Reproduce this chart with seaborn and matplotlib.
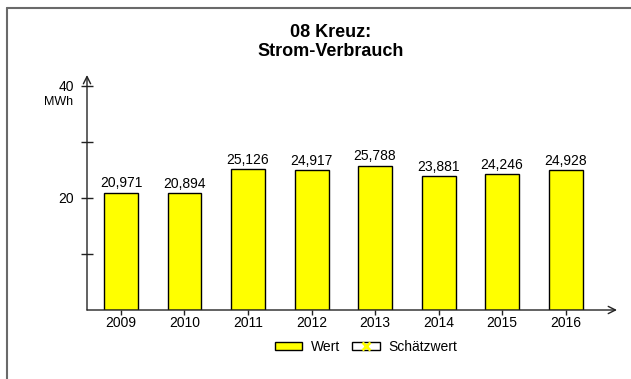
import matplotlib
matplotlib.use("Agg")
import matplotlib.pyplot as plt
from matplotlib.lines import Line2D
from matplotlib.patches import Patch
from matplotlib.legend_handler import HandlerTuple
import seaborn as sns
import pandas as pd

# Annual electricity consumption (MWh)
years = ["2009", "2010", "2011", "2012", "2013", "2014", "2015", "2016"]
consumption = [20.971, 20.894, 25.126, 24.917, 25.788, 23.881, 24.246, 24.928]
y_tick_values = [20, 40]
y_minor_values = [10, 30]

title_text = "08 Kreuz:\nStrom-Verbrauch"
unit_text = "MWh"
legend_labels = ["Wert", "Schätzwert"]

sns.set_theme(style="white")
plt.rcParams["font.family"] = ["Liberation Sans", "DejaVu Sans"]
plt.rcParams["text.color"] = "black"
plt.rcParams["xtick.labelcolor"] = "black"
plt.rcParams["ytick.labelcolor"] = "black"

df = pd.DataFrame({"Jahr": years, "Verbrauch": consumption})

W, H = 631, 379
fig = plt.figure(figsize=(W / 100, H / 100), dpi=100)
ax = fig.add_axes([87 / W, (H - 310) / H, (617 - 87) / W, (310 - 75) / H])

sns.barplot(data=df, x="Jahr", y="Verbrauch", color="#FFFF00", saturation=1,
            edgecolor="black", linewidth=1.0, width=0.535, ax=ax)

ax.set_xlim(-0.535, 7.81)
ax.set_ylim(0, 41.96)
ax.set_xlabel("")
ax.set_ylabel("")

for s in ax.spines.values():
    s.set_visible(False)

# axis lines with open arrow heads
arrow_kw = dict(arrowstyle="->", color="#222222", lw=1.0, mutation_scale=13,
                shrinkA=0, shrinkB=0)
ax.annotate("", xy=(0, 1), xytext=(0, 0), xycoords="axes fraction",
            textcoords="axes fraction", arrowprops=arrow_kw, annotation_clip=False)
ax.annotate("", xy=(1, 0), xytext=(0, 0), xycoords="axes fraction",
            textcoords="axes fraction", arrowprops=arrow_kw, annotation_clip=False)

ax.set_yticks(y_tick_values)
ax.set_yticklabels([str(v) for v in y_tick_values])
ax.set_yticks(y_minor_values, minor=True)
ax.tick_params(axis="y", which="both", direction="inout", length=8, width=1,
               color="#222222", left=True, labelsize=10, pad=5.5,
               labelcolor="black")
ax.tick_params(axis="x", which="major", direction="out", length=3.5, width=1,
               color="#222222", bottom=True, labelsize=10, pad=1,
               labelcolor="black")
ax.tick_params(axis="x", which="minor", bottom=False)

# unit label under the top tick, offset left of the y axis
ax.annotate(unit_text, xy=(0, 1), xycoords="axes fraction", xytext=(-14, -27),
            textcoords="offset pixels", ha="right", va="center", fontsize=9,
            color="black", annotation_clip=False)

labels = [f"{v:.3f}".replace(".", ",") for v in consumption]
ax.bar_label(ax.containers[0], labels=labels, padding=1.5, fontsize=10,
             color="black")

fig.suptitle(title_text, x=331 / W, y=1 - 24 / H, fontsize=13, fontweight="bold",
             va="top", linespacing=1.15, color="black")

handles = [
    Patch(facecolor="#FFFF00", edgecolor="black", linewidth=1.0),
    (Patch(facecolor="white", edgecolor="black", linewidth=1.0),
     Line2D([], [], color="#FFFF00", marker="x", linestyle="none",
            markersize=6, markeredgewidth=2)),
]
fig.legend(handles, legend_labels, loc="center", ncol=2,
           bbox_to_anchor=(366 / W, 1 - 347 / H), frameon=False, fontsize=10,
           handlelength=2.0, handleheight=0.55, handletextpad=0.6,
           columnspacing=0.9, labelcolor="black",
           handler_map={tuple: HandlerTuple(ndivide=1, pad=0)})

# frame lines along the top and left edges
fig.add_artist(Line2D([7 / W, 1], [1 - 8 / H, 1 - 8 / H], transform=fig.transFigure,
                      color="#6a6a6a", lw=1.5))
fig.add_artist(Line2D([7 / W, 7 / W], [0, 1 - 8 / H], transform=fig.transFigure,
                      color="#6a6a6a", lw=1.5))

fig.savefig("out.png", dpi=100)
